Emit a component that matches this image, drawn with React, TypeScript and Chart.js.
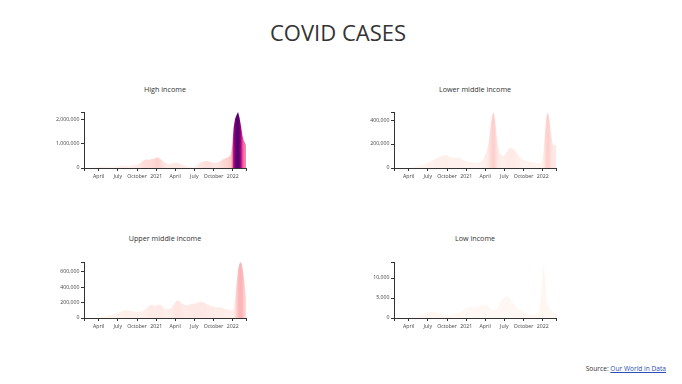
import React, { useEffect, useRef } from 'react';
import { Chart, registerables } from 'chart.js';

Chart.register(...registerables);

// ---------- DATA (daily new cases, 7-day average, in thousands) ----------
const dates = [
  '2020-01-22', '2020-02-05', '2020-02-19', '2020-03-04', '2020-03-18', '2020-04-01', '2020-04-15', '2020-04-29',
  '2020-05-13', '2020-05-27', '2020-06-10', '2020-06-24', '2020-07-08', '2020-07-22', '2020-08-05', '2020-08-19',
  '2020-09-02', '2020-09-16', '2020-09-30', '2020-10-14', '2020-10-28', '2020-11-11', '2020-11-25', '2020-12-09',
  '2020-12-23',
  '2021-01-06', '2021-01-20', '2021-02-03', '2021-02-17',
  '2021-03-03', '2021-03-10', '2021-03-17', '2021-03-24', '2021-03-31', '2021-04-07', '2021-04-14', '2021-04-21',
  '2021-04-28', '2021-05-05', '2021-05-12', '2021-05-19', '2021-05-26', '2021-06-02', '2021-06-09', '2021-06-16',
  '2021-06-23', '2021-06-30', '2021-07-07', '2021-07-14', '2021-07-21', '2021-07-28', '2021-08-04', '2021-08-11',
  '2021-08-18', '2021-08-25', '2021-09-01', '2021-09-08', '2021-09-15', '2021-09-22', '2021-09-29', '2021-10-06',
  '2021-10-13', '2021-10-20', '2021-10-27', '2021-11-03', '2021-11-10', '2021-11-17', '2021-11-24', '2021-12-01',
  '2021-12-08', '2021-12-15', '2021-12-22', '2021-12-29',
  '2022-01-05', '2022-01-12', '2022-01-19', '2022-01-26', '2022-02-02', '2022-02-09', '2022-02-16', '2022-02-23',
  '2022-03-02', '2022-03-05',
];

const highIncome = [
  0, 1, 2, 8, 30, 60, 75, 65, 50, 45, 45, 60, 85, 100, 95, 90, 95, 110, 140, 200, 300, 350, 340, 360, 400,
  450, 380, 270, 200,
  170, 175, 190, 205, 215, 210, 200, 185, 170, 150, 125, 100, 80, 65, 55, 45, 42, 50,
  90, 130, 170, 210, 240, 260, 280, 290, 290, 280, 260, 240, 220, 210, 210, 230, 260, 290, 330, 370, 400, 420,
  450, 480, 550, 900,
  1700, 2050, 2200, 2330, 2100, 1750, 1350, 1120, 1020, 960,
];

const lowerMiddleIncome = [
  0, 0, 0, 0.2, 1, 3, 6, 10, 15, 22, 30, 40, 50, 62, 75, 88, 100, 105, 108, 92, 82, 85, 90, 75, 62,
  55, 50, 45, 44,
  48, 52, 62, 80, 105, 140, 180, 260, 370, 440, 467, 390, 270, 180, 130, 110, 100, 105,
  120, 140, 155, 165, 168, 162, 150, 135, 120, 105, 92, 80, 70, 64, 60, 56, 53, 50, 48, 46, 44, 42,
  40, 39, 40, 60,
  150, 320, 435, 465, 400, 290, 210, 185, 190, 195,
];

const upperMiddleIncome = [
  1, 3, 2, 1, 3, 10, 18, 22, 28, 38, 50, 62, 75, 90, 100, 100, 95, 85, 80, 80, 95, 120, 150, 175, 155,
  165, 175, 140, 115,
  120, 130, 150, 175, 200, 220, 230, 220, 200, 185, 175, 165, 165, 170, 175, 180, 185, 185,
  190, 195, 200, 210, 210, 205, 200, 190, 180, 170, 160, 155, 150, 145, 140, 140, 140, 140, 135, 130, 120, 115,
  110, 105, 100, 100,
  120, 250, 450, 630, 710, 730, 660, 520, 350, 280,
];

const lowIncome = [
  0, 0, 0, 0, 0.02, 0.1, 0.2, 0.4, 0.6, 0.9, 1.1, 1.3, 1.5, 1.6, 1.5, 1.3, 1.1, 0.9, 0.8, 0.8, 0.9, 1.1, 1.3, 1.6, 2.0,
  2.6, 2.9, 2.7, 2.6,
  2.8, 3.0, 3.2, 3.3, 3.4, 3.3, 3.0, 2.6, 2.3, 2.1, 2.0, 2.1, 2.4, 2.9, 3.5, 4.2, 4.8, 5.2,
  5.4, 5.5, 5.3, 4.9, 4.4, 3.9, 3.4, 3.0, 2.6, 2.3, 2.0, 1.8, 1.6, 1.4, 1.2, 1.1, 1.0, 0.9, 0.8, 0.8, 0.8, 0.9,
  1.2, 2.0, 4.5, 9.5,
  14.0, 10.0, 5.5, 3.4, 2.5, 2.0, 1.7, 1.5, 1.3, 1.2,
];
const UNIT = 1000;

const xDomain = ['2020-01-22', '2022-03-05'];
const xTickDates = ['2020-04-01', '2020-07-01', '2020-10-01', '2021-01-01', '2021-04-01', '2021-07-01', '2021-10-01', '2022-01-01'];
const xTickLabels = ['April', 'July', 'October', '2021', 'April', 'July', 'October', '2022'];

const highTicks = [0, 1000000, 2000000];
const lowerMiddleTicks = [0, 200000, 400000];
const upperMiddleTicks = [0, 200000, 400000, 600000];
const lowTicks = [0, 5000, 10000];

const panelTitles = ['High income', 'Lower middle income', 'Upper middle income', 'Low income'];

// ---------- helpers ----------
const toDay = (s: string) => Date.UTC(+s.slice(0, 4), +s.slice(5, 7) - 1, +s.slice(8, 10)) / 86400000;
const xMin = toDay(xDomain[0]);
const xMax = toDay(xDomain[1]);
const xTickDays = xTickDates.map(toDay);

const RDPU = ['#fff7f3', '#fde0dd', '#fcc5c0', '#fa9fb5', '#f768a1', '#dd3497', '#ae017e', '#7a0177', '#49006a'];
const hexToRgb = (h: string) => [parseInt(h.slice(1, 3), 16), parseInt(h.slice(3, 5), 16), parseInt(h.slice(5, 7), 16)];
const RDPU_RGB = RDPU.map(hexToRgb);
function rdpu(t: number) {
  const tt = Math.max(0, Math.min(1, t));
  const n = RDPU_RGB.length - 1;
  const i = Math.min(n - 1, Math.floor(tt * n));
  const f = tt * n - i;
  const a = RDPU_RGB[i];
  const b = RDPU_RGB[i + 1];
  const c = a.map((v, k) => Math.round(v + (b[k] - v) * f));
  return `rgb(${c[0]},${c[1]},${c[2]})`;
}

const allSeries = [highIncome, lowerMiddleIncome, upperMiddleIncome, lowIncome];
const globalMax = Math.max(...allSeries.flat()) * UNIT;

const AXIS = '#333';
const TICK_TEXT = '#444';
const FONT = 'Open Sans';

type PanelDef = { title: string; values: number[]; ticks: number[]; left: number; top: number };
const panels: PanelDef[] = [
  { title: panelTitles[0], values: highIncome, ticks: highTicks, left: 20, top: 100 },
  { title: panelTitles[1], values: lowerMiddleIncome, ticks: lowerMiddleTicks, left: 330, top: 100 },
  { title: panelTitles[2], values: upperMiddleIncome, ticks: upperMiddleTicks, left: 20, top: 250 },
  { title: panelTitles[3], values: lowIncome, ticks: lowTicks, left: 330, top: 250 },
];

const CANVAS_W = 240;
const CANVAS_H = 88;

function Panel({ def }: { def: PanelDef }) {
  const ref = useRef<HTMLCanvasElement | null>(null);
  useEffect(() => {
    if (!ref.current) return;
    const pts = dates.map((d, i) => ({ x: toDay(d), y: def.values[i] * UNIT }));
    const yMax = Math.max(...pts.map((p) => p.y));
    const tickFont = { family: FONT, size: 5.2 };
    const chart = new Chart(ref.current, {
      type: 'line',
      data: {
        datasets: [
          {
            data: pts,
            fill: 'origin',
            borderWidth: 0,
            borderColor: 'rgba(0,0,0,0)',
            pointRadius: 0,
            tension: 0,
            backgroundColor: (ctx: any) => {
              const ch = ctx.chart;
              const area = ch.chartArea;
              if (!area || !ch.scales.x) return rdpu(0);
              const g = ch.ctx.createLinearGradient(area.left, 0, area.right, 0);
              const w = area.right - area.left;
              pts.forEach((p) => {
                const s = (ch.scales.x.getPixelForValue(p.x) - area.left) / w;
                if (s >= 0 && s <= 1) g.addColorStop(s, rdpu(p.y / globalMax));
              });
              return g;
            },
          },
        ],
      },
      options: {
        animation: false,
        responsive: false,
        events: [],
        layout: { padding: { top: 12, right: 14, left: 0, bottom: 0 } },
        plugins: { legend: { display: false }, tooltip: { enabled: false }, title: { display: false } },
        scales: {
          x: {
            type: 'linear',
            min: xMin,
            max: xMax,
            afterBuildTicks: (s: any) => {
              s.ticks = [xMin, ...xTickDays, xMax].map((v) => ({ value: v }));
            },
            afterFit: (s: any) => {
              s.height = 20;
            },
            ticks: {
              autoSkip: false,
              maxRotation: 0,
              padding: 2,
              font: tickFont,
              color: TICK_TEXT,
              callback: (v: any) => {
                const i = xTickDays.indexOf(Number(v));
                return i >= 0 ? xTickLabels[i] : '';
              },
            },
            grid: { drawOnChartArea: false, tickLength: 3, color: AXIS, lineWidth: 1 },
            border: { display: true, color: AXIS, width: 1 },
          },
          y: {
            type: 'linear',
            min: 0,
            max: yMax,
            afterBuildTicks: (s: any) => {
              s.ticks = [...def.ticks, yMax].map((v) => ({ value: v }));
            },
            afterFit: (s: any) => {
              s.width = 64;
            },
            ticks: {
              padding: 1.5,
              font: tickFont,
              color: TICK_TEXT,
              callback: (v: any) => (def.ticks.includes(Number(v)) ? Number(v).toLocaleString('en-US') : ''),
            },
            grid: { drawOnChartArea: false, tickLength: 3, color: AXIS, lineWidth: 1 },
            border: { display: true, color: AXIS, width: 1 },
          },
        },
      } as any,
    });
    return () => chart.destroy();
  }, [def]);

  return (
    <canvas
      ref={ref}
      width={CANVAS_W}
      height={CANVAS_H}
      style={{ position: 'absolute', left: def.left, top: def.top, width: CANVAS_W, height: CANVAS_H }}
    />
  );
}

function Text({
  x,
  baseline,
  size,
  align = 'center',
  children,
  color = '#333',
}: {
  x: number;
  baseline: number;
  size: number;
  align?: 'center' | 'right' | 'left';
  children: React.ReactNode;
  color?: string;
}) {
  const top = baseline - 0.888 * size;
  const style: React.CSSProperties = {
    position: 'absolute',
    top,
    fontSize: size,
    lineHeight: 1,
    whiteSpace: 'nowrap',
    fontFamily: FONT,
    color,
  };
  if (align === 'center') {
    style.left = x;
    style.transform = 'translateX(-50%)';
  } else if (align === 'right') {
    style.right = 682 - x;
  } else {
    style.left = x;
  }
  return <div style={style}>{children}</div>;
}

export default function App() {
  return (
    <div style={{ position: 'absolute', left: 0, top: 0, width: 682, height: 384, background: '#fff', overflow: 'hidden' }}>
      <Text x={338} baseline={41} size={22}>
        COVID CASES
      </Text>
      <Text x={165} baseline={92.3} size={7.2}>
        {panels[0].title}
      </Text>
      <Text x={475} baseline={92.3} size={7.2}>
        {panels[1].title}
      </Text>
      <Text x={165} baseline={241.8} size={7.2}>
        {panels[2].title}
      </Text>
      <Text x={475} baseline={241.8} size={7.2}>
        {panels[3].title}
      </Text>
      {panels.map((p) => (
        <Panel key={p.title} def={p} />
      ))}
      <Text x={666} baseline={371.5} size={6.6} align="right">
        Source:{' '}
        <a href="https://ourworldindata.org/" style={{ color: '#2b4fb5', textDecoration: 'underline' }}>
          Our World in Data
        </a>
      </Text>
    </div>
  );
}
